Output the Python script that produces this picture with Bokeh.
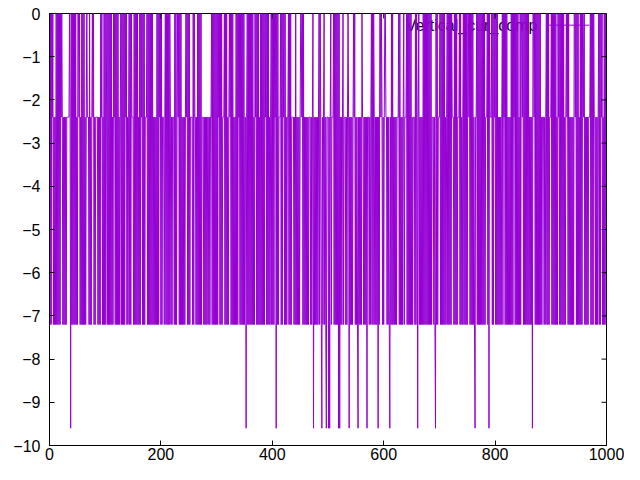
from bokeh.plotting import figure
from bokeh.models import Range1d, FixedTicker, Label, Arrow
from bokeh.embed import file_html
from bokeh.resources import INLINE

# ---- data (levels: code k -> value -2.4*k) ----
level_step = -2.4
codes = (
    "0303010313" "1303030303" "0101313131" "3111110140" "3030303031"
    "3001031303" "0303131011" "1303131010" "3131111313" "1301031303"
    "0310303030" "3031301030" "3030313103" "0303030103" "1310303011"
    "1303030303" "1303010303" "0311103030" "3030303131" "3130303010"
    "3031113103" "0303030131" "3111303031" "0103030313" "1313101030"
    "3031111303" "0113130303" "0303111313" "1313113131" "1030303030"
    "3030103030" "3111030303" "1310103030" "3131303030" "1030303030"
    "3114103030" "3030303130" "1030303130" "3030303010" "3030313103"
    "0303010403" "0311103030" "1030313110" "3030311113" "1303131313"
    "1001030313" "1313131113" "1310413131" "3131030134" "1310313411"
    "1414103111" "0303030304" "0413131031" "1131310141" "3131310103"
    "1313413131" "3011313131" "4111313103" "0301313131" "4130010131"
    "3100113131" "3413030313" "1313111030" "3131310311" "1030303030"
    "3131113030" "1410313131" "3030303030" "3030303111" "3134030311"
    "1030303030" "3131030303" "0301113030" "3031110303" "1310303030"
    "3001030303" "0313411030" "3030303030" "3031110304" "0111030301"
    "0303031313" "1310301030" "3031313130" "3030103030" "3031303001"
    "0303030303" "0313131400" "1030303030" "3031311131" "3103030311"
    "1030303030" "3130103030" "3030313101" "0303131313" "1300103030"
    "3130303001" "0313131311" "1030303011" "3131310303" "0103130303"
)
y_values = [round(level_step * int(c), 2) for c in codes]
x_values = list(range(len(y_values)))

series_name = "Vertical_cur_comp"
x_ticks = [0, 200, 400, 600, 800, 1000]
y_ticks = [0, -1, -2, -3, -4, -5, -6, -7, -8, -9, -10]

LINE_COLOR = "#9400D3"
FONT = "Liberation Sans"

X0, X1 = 0, 1000
Y0, Y1 = -10, 0
FRAME_W, FRAME_H = 557, 432
TICK_PX = 5

p = figure(width=624, height=464, output_backend="svg", toolbar_location=None,
           x_range=Range1d(X0, X1), y_range=Range1d(Y0, Y1),
           frame_width=FRAME_W, frame_height=FRAME_H,
           min_border_left=49, min_border_right=18, min_border_top=13, min_border_bottom=19)
p.background_fill_color = "white"
p.border_fill_color = "white"
p.outline_line_color = "black"
p.outline_line_width = 1
p.grid.visible = False

p.line(x_values, y_values, line_color=LINE_COLOR, line_width=1)

for ax in (p.xaxis[0], p.yaxis[0]):
    ax.axis_line_color = "black"
    ax.major_tick_in = TICK_PX
    ax.major_tick_out = 0
    ax.minor_tick_line_color = None
    ax.major_tick_line_color = "black"
    ax.major_label_text_font = FONT
    ax.major_label_text_font_size = "16px"
    ax.major_label_text_color = "black"

p.xaxis.ticker = FixedTicker(ticks=x_ticks)
p.yaxis.ticker = FixedTicker(ticks=y_ticks)
p.xaxis[0].major_label_standoff = 2
p.yaxis[0].major_label_standoff = 9

# mirrored inward ticks on top and right borders (gnuplot style)
dy = TICK_PX * (Y1 - Y0) / FRAME_H
dx = TICK_PX * (X1 - X0) / FRAME_W
p.segment(x0=x_ticks, y0=[Y1] * len(x_ticks), x1=x_ticks, y1=[Y1 - dy] * len(x_ticks),
          line_color="black", line_width=1)
p.segment(x0=[X1] * len(y_ticks), y0=y_ticks, x1=[X1 - dx] * len(y_ticks), y1=y_ticks,
          line_color="black", line_width=1)

# key (gnuplot style: text then sample line), top right
key_y = -0.27
p.add_layout(Label(x=876, y=key_y, text=series_name, text_align="right",
                   text_baseline="middle", text_font=FONT, text_font_size="16px",
                   text_color="black", level="underlay"))
p.add_layout(Arrow(x_start=896, y_start=key_y, x_end=969, y_end=key_y,
                   start=None, end=None, line_color=LINE_COLOR, line_width=1))

open("out.html", "w").write(file_html(p, INLINE))
